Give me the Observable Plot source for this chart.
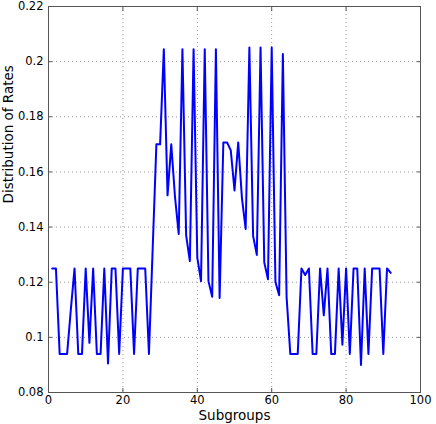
<!DOCTYPE html>
<html>
<head>
<meta charset="utf-8">
<script src="https://cdn.jsdelivr.net/npm/d3@7"></script>
<script src="https://cdn.jsdelivr.net/npm/@observablehq/plot@0.6"></script>
<style>
  html, body { margin: 0; padding: 0; background: #fff; }
  #chart svg { display: block; }
</style>
</head>
<body>
<div id="chart"></div>
<script>
const subgroups = d3.range(1, 93);
const rates = [
  0.125, 0.125, 0.094, 0.094, 0.094, 0.110, 0.125, 0.094, 0.094, 0.125,
  0.098, 0.125, 0.094, 0.094, 0.125, 0.0905, 0.125, 0.125, 0.094, 0.125,
  0.125, 0.125, 0.094, 0.125, 0.125, 0.125, 0.094, 0.132, 0.170, 0.170,
  0.2045, 0.1515, 0.170, 0.151, 0.1375, 0.2045, 0.137, 0.1277, 0.2045, 0.1289,
  0.1204, 0.2045, 0.1204, 0.1147, 0.2045, 0.1143, 0.1707, 0.1707, 0.1678, 0.1533,
  0.1707, 0.1505, 0.1393, 0.2051, 0.1368, 0.1299, 0.2051, 0.1272, 0.1211, 0.2051,
  0.1201, 0.1153, 0.2028, 0.1147, 0.094, 0.094, 0.094, 0.125, 0.1226, 0.125,
  0.094, 0.094, 0.125, 0.108, 0.125, 0.094, 0.094, 0.125, 0.0973, 0.125,
  0.094, 0.125, 0.125, 0.090, 0.125, 0.094, 0.125, 0.125, 0.125, 0.094,
  0.125, 0.1234
];
const xTicks = [0, 20, 40, 60, 80, 100];
const yTicks = [0.08, 0.10, 0.12, 0.14, 0.16, 0.18, 0.20, 0.22];
const yTickLabels = ["0.08", "0.1", "0.12", "0.14", "0.16", "0.18", "0.2", "0.22"];
const xLabel = "Subgroups";
const yLabel = "Distribution of Rates";

const data = subgroups.map((s, i) => ({s, r: rates[i]}));
const yFmt = d => yTickLabels[yTicks.findIndex(t => Math.abs(t - d) < 1e-9)];

const chart = Plot.plot({
  width: 436,
  height: 424,
  marginLeft: 48,
  marginRight: 16,
  marginTop: 6,
  marginBottom: 32,
  style: {fontFamily: "'DejaVu Sans', sans-serif", fontSize: "11.5px", color: "#000", background: "#fff"},
  x: {domain: [0, 100]},
  y: {domain: [0.08, 0.22]},
  marks: [
    Plot.gridX(xTicks, {stroke: "#9a9a9a", strokeOpacity: 1, strokeDasharray: "1,3"}),
    Plot.gridY(yTicks, {stroke: "#9a9a9a", strokeOpacity: 1, strokeDasharray: "1,3"}),
    Plot.axisX(xTicks, {anchor: "bottom", tickSize: -4, tickPadding: 7.5, label: null, fontSize: 11.5, stroke: "#555"}),
    Plot.axisX(xTicks, {anchor: "top", tickSize: -4, tickFormat: () => "", label: null, stroke: "#555"}),
    Plot.axisY(yTicks, {anchor: "left", tickSize: -4, tickPadding: 9, tickFormat: yFmt, label: null, fontSize: 11.5, stroke: "#555"}),
    Plot.axisY(yTicks, {anchor: "right", tickSize: -4, tickFormat: () => "", label: null, stroke: "#555"}),
    Plot.frame({stroke: "#555", strokeWidth: 1}),
    Plot.line(data, {x: "s", y: "r", stroke: "#0000ff", strokeWidth: 2}),
    Plot.text([xLabel], {frameAnchor: "bottom", lineAnchor: "top", dy: 17.5, fontSize: 13.5, fill: "#000"}),
    Plot.text([yLabel], {frameAnchor: "left", rotate: -90, dx: -40, dy: 4, fontSize: 13.5, fill: "#000"})
  ]
});
document.getElementById("chart").appendChild(chart);
</script>
</body>
</html>
